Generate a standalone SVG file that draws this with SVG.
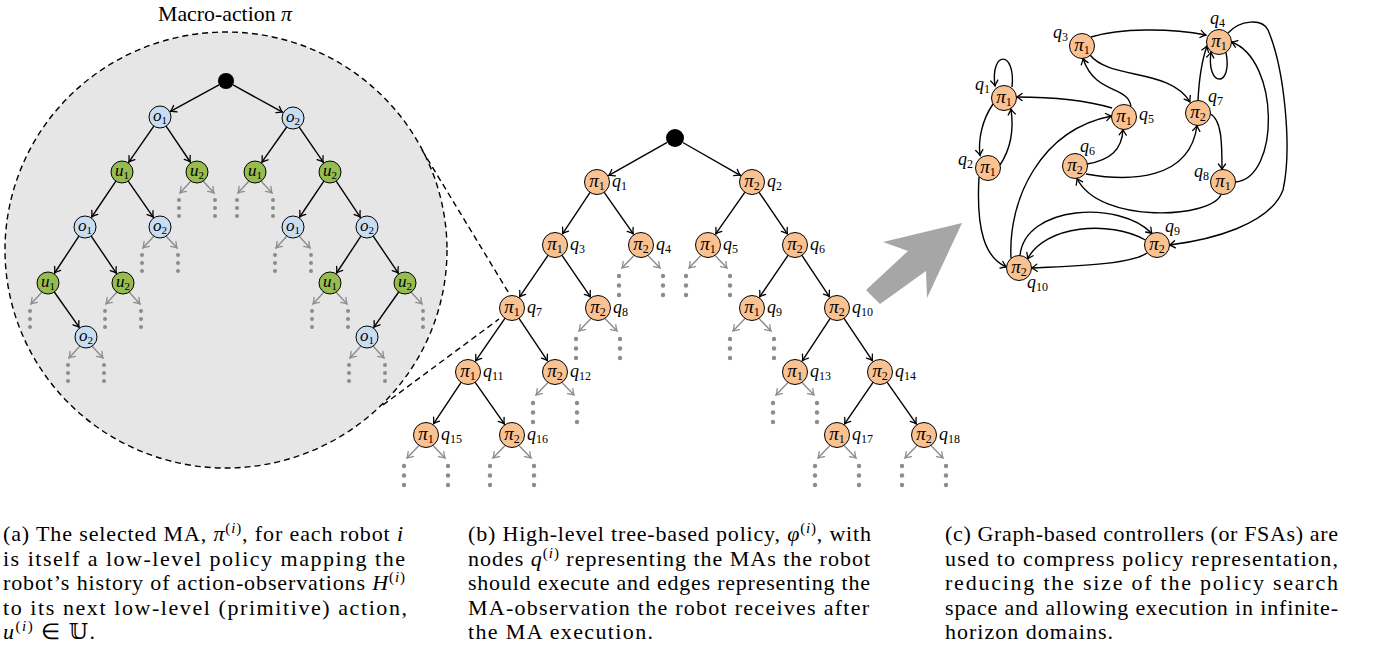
<svg xmlns="http://www.w3.org/2000/svg" xmlns:xlink="http://www.w3.org/1999/xlink" width="1375" height="656" viewBox="0 0 1375 656">
<style>
.e{stroke:#000;stroke-width:1.4;fill:none;marker-end:url(#ah)}
.g{stroke:#8c8c8c;stroke-width:1.4;fill:none;marker-end:url(#ag)}
.d{fill:#8c8c8c}
.pi{fill:#fac191;stroke:#000;stroke-width:1}
.ob{fill:#c9ddf2;stroke:#000;stroke-width:1}
.ug{fill:#96bb4f;stroke:#000;stroke-width:1}
.dash{stroke:#000;stroke-width:1.4;fill:none;stroke-dasharray:6 4}
.bub{stroke:#000;stroke-width:1.4;fill:#e6e6e6;stroke-dasharray:6 4}
text{font-family:"Liberation Serif","Times New Roman",serif;fill:#000}
.nl{font-size:19px;text-anchor:middle}
.sl{font-size:17px;text-anchor:middle}
.ql{font-size:18px;font-style:italic}
.it{font-style:italic}
.sb{font-size:12px;font-style:normal}
.ss{font-size:11px;font-style:normal}
.cap{font-size:22px}
</style>
<defs>
<marker id="ah" markerUnits="userSpaceOnUse" viewBox="-7 -5 8 10" refX="0" refY="0" markerWidth="8" markerHeight="10" orient="auto" overflow="visible">
<path d="M-5.5,-3.6 Q-2,-0.8 0,0 Q-2,0.8 -5.5,3.6" fill="none" stroke="#000" stroke-width="1.3" stroke-linecap="round"/>
</marker>
<marker id="ag" markerUnits="userSpaceOnUse" viewBox="-7 -5 8 10" refX="0" refY="0" markerWidth="8" markerHeight="10" orient="auto" overflow="visible">
<path d="M-5.5,-3.6 Q-2,-0.8 0,0 Q-2,0.8 -5.5,3.6" fill="none" stroke="#8c8c8c" stroke-width="1.3" stroke-linecap="round"/>
</marker>
<g id="mL"><line class="g" x1="-7" y1="10.5" x2="-19" y2="23"/><circle class="d" cx="-22" cy="31" r="2.2"/><circle class="d" cx="-22" cy="40.5" r="2.2"/><circle class="d" cx="-22" cy="50" r="2.2"/></g>
<g id="mR"><line class="g" x1="7" y1="10.5" x2="19" y2="23"/><circle class="d" cx="22" cy="31" r="2.2"/><circle class="d" cx="22" cy="40.5" r="2.2"/><circle class="d" cx="22" cy="50" r="2.2"/></g>
<g id="sL"><line class="g" x1="-6" y1="9" x2="-17" y2="21"/><circle class="d" cx="-18" cy="28" r="2"/><circle class="d" cx="-18" cy="36" r="2"/><circle class="d" cx="-18" cy="44" r="2"/></g>
<g id="sR"><line class="g" x1="6" y1="9" x2="17" y2="21"/><circle class="d" cx="18" cy="28" r="2"/><circle class="d" cx="18" cy="36" r="2"/><circle class="d" cx="18" cy="44" r="2"/></g>
</defs>

<!-- (a) macro-action circle -->
<g id="ma-circle">
<ellipse class="bub" cx="226" cy="250" rx="221" ry="218"/>
<text x="225" y="21" font-size="21" text-anchor="middle" textLength="134" lengthAdjust="spacingAndGlyphs">Macro-action <tspan class="it">π</tspan></text>
</g>

<g id="zoom-lines">
<line class="dash" x1="422" y1="150" x2="510" y2="295"/>
<line class="dash" x1="383" y1="405" x2="499" y2="319"/>
</g>

<g id="ma-edges">
<line class="e" x1="219" y1="84.8" x2="170.5" y2="111.3"/>
<line class="e" x1="233" y1="84.9" x2="282.5" y2="112.2"/>
<line class="e" x1="153.8" y1="126.1" x2="128.8" y2="162.1"/>
<line class="e" x1="166.1" y1="126.1" x2="190.3" y2="162"/>
<line class="e" x1="286.7" y1="127" x2="261.9" y2="162.2"/>
<line class="e" x1="299.2" y1="127.1" x2="323.2" y2="162.1"/>
<line class="e" x1="115.9" y1="181.1" x2="91.7" y2="217"/>
<line class="e" x1="128.2" y1="181.1" x2="153.2" y2="217.1"/>
<line class="e" x1="323.9" y1="181.1" x2="299.7" y2="217"/>
<line class="e" x1="336.2" y1="181.1" x2="360.2" y2="217.1"/>
<line class="e" x1="78.9" y1="236.2" x2="54.6" y2="273"/>
<line class="e" x1="91.2" y1="236.1" x2="116.3" y2="273.1"/>
<line class="e" x1="360.9" y1="236.2" x2="336.6" y2="273"/>
<line class="e" x1="373.2" y1="236.1" x2="398.3" y2="273.1"/>
<line class="e" x1="54.3" y1="292" x2="79.1" y2="327.2"/>
<line class="e" x1="398.7" y1="292" x2="373.9" y2="327.2"/>
<use xlink:href="#sL" x="197" y="172"/><use xlink:href="#sR" x="197" y="172"/>
<use xlink:href="#sL" x="255" y="172"/><use xlink:href="#sR" x="255" y="172"/>
<use xlink:href="#sL" x="160" y="227"/><use xlink:href="#sR" x="160" y="227"/>
<use xlink:href="#sL" x="293" y="227"/><use xlink:href="#sR" x="293" y="227"/>
<use xlink:href="#sL" x="48" y="283"/>
<use xlink:href="#sL" x="123" y="283"/><use xlink:href="#sR" x="123" y="283"/>
<use xlink:href="#sL" x="330" y="283"/><use xlink:href="#sR" x="330" y="283"/>
<use xlink:href="#sR" x="405" y="283"/>
<use xlink:href="#sL" x="86" y="337"/><use xlink:href="#sR" x="86" y="337"/>
<use xlink:href="#sL" x="367" y="337"/><use xlink:href="#sR" x="367" y="337"/>
</g>

<g id="ma-root"><circle cx="226" cy="81" r="8" fill="#000"/></g>
<g id="ma-o1a"><circle class="ob" cx="160" cy="117" r="11"/><text class="sl" x="160" y="121"><tspan class="it">o</tspan><tspan class="ss" dy="3">1</tspan></text></g>
<g id="ma-o2a"><circle class="ob" cx="293" cy="118" r="11"/><text class="sl" x="293" y="122"><tspan class="it">o</tspan><tspan class="ss" dy="3">2</tspan></text></g>
<g id="ma-u1a"><circle class="ug" cx="122" cy="172" r="11"/><text class="sl" x="122" y="176"><tspan class="it">u</tspan><tspan class="ss" dy="3">1</tspan></text></g>
<g id="ma-u2a"><circle class="ug" cx="197" cy="172" r="11"/><text class="sl" x="197" y="176"><tspan class="it">u</tspan><tspan class="ss" dy="3">2</tspan></text></g>
<g id="ma-u1b"><circle class="ug" cx="255" cy="172" r="11"/><text class="sl" x="255" y="176"><tspan class="it">u</tspan><tspan class="ss" dy="3">1</tspan></text></g>
<g id="ma-u2b"><circle class="ug" cx="330" cy="172" r="11"/><text class="sl" x="330" y="176"><tspan class="it">u</tspan><tspan class="ss" dy="3">2</tspan></text></g>
<g id="ma-o1b"><circle class="ob" cx="85" cy="227" r="11"/><text class="sl" x="85" y="231"><tspan class="it">o</tspan><tspan class="ss" dy="3">1</tspan></text></g>
<g id="ma-o2b"><circle class="ob" cx="160" cy="227" r="11"/><text class="sl" x="160" y="231"><tspan class="it">o</tspan><tspan class="ss" dy="3">2</tspan></text></g>
<g id="ma-o1c"><circle class="ob" cx="293" cy="227" r="11"/><text class="sl" x="293" y="231"><tspan class="it">o</tspan><tspan class="ss" dy="3">1</tspan></text></g>
<g id="ma-o2c"><circle class="ob" cx="367" cy="227" r="11"/><text class="sl" x="367" y="231"><tspan class="it">o</tspan><tspan class="ss" dy="3">2</tspan></text></g>
<g id="ma-u1c"><circle class="ug" cx="48" cy="283" r="11"/><text class="sl" x="48" y="287"><tspan class="it">u</tspan><tspan class="ss" dy="3">1</tspan></text></g>
<g id="ma-u2c"><circle class="ug" cx="123" cy="283" r="11"/><text class="sl" x="123" y="287"><tspan class="it">u</tspan><tspan class="ss" dy="3">2</tspan></text></g>
<g id="ma-u1d"><circle class="ug" cx="330" cy="283" r="11"/><text class="sl" x="330" y="287"><tspan class="it">u</tspan><tspan class="ss" dy="3">1</tspan></text></g>
<g id="ma-u2d"><circle class="ug" cx="405" cy="283" r="11"/><text class="sl" x="405" y="287"><tspan class="it">u</tspan><tspan class="ss" dy="3">2</tspan></text></g>
<g id="ma-o2d"><circle class="ob" cx="86" cy="337" r="11"/><text class="sl" x="86" y="341"><tspan class="it">o</tspan><tspan class="ss" dy="3">2</tspan></text></g>
<g id="ma-o1d"><circle class="ob" cx="367" cy="337" r="11"/><text class="sl" x="367" y="341"><tspan class="it">o</tspan><tspan class="ss" dy="3">1</tspan></text></g>

<!-- (b) tree policy -->
<g id="tree-edges">
<line class="e" x1="667.2" y1="142.4" x2="608.8" y2="175.4"/>
<line class="e" x1="682.8" y1="142.5" x2="740.3" y2="175.3"/>
<line class="e" x1="590.1" y1="192.4" x2="562.5" y2="233.8"/>
<line class="e" x1="604.2" y1="192.3" x2="633.3" y2="233.9"/>
<line class="e" x1="744.8" y1="192.3" x2="715.7" y2="233.9"/>
<line class="e" x1="759.1" y1="192.3" x2="787.4" y2="233.9"/>
<line class="e" x1="548" y1="255.3" x2="519.6" y2="296.9"/>
<line class="e" x1="562" y1="255.3" x2="590.4" y2="296.9"/>
<line class="e" x1="788" y1="255.3" x2="759.6" y2="296.9"/>
<line class="e" x1="801.9" y1="255.4" x2="829.5" y2="296.8"/>
<line class="e" x1="504.9" y1="318.3" x2="475.6" y2="360.9"/>
<line class="e" x1="519" y1="318.4" x2="547.5" y2="360.8"/>
<line class="e" x1="830.2" y1="318.4" x2="802.4" y2="360.7"/>
<line class="e" x1="844" y1="318.4" x2="872.5" y2="360.8"/>
<line class="e" x1="461.1" y1="382.4" x2="433.5" y2="423.8"/>
<line class="e" x1="475.2" y1="382.3" x2="504.3" y2="423.9"/>
<line class="e" x1="873" y1="382.3" x2="844.6" y2="423.9"/>
<line class="e" x1="887.2" y1="382.3" x2="916.3" y2="423.9"/>
<use xlink:href="#mL" x="641" y="245"/><use xlink:href="#mR" x="641" y="245"/>
<use xlink:href="#mL" x="708" y="245"/><use xlink:href="#mR" x="708" y="245"/>
<use xlink:href="#mL" x="598" y="308"/><use xlink:href="#mR" x="598" y="308"/>
<use xlink:href="#mL" x="752" y="308"/><use xlink:href="#mR" x="752" y="308"/>
<use xlink:href="#mL" x="555" y="372"/><use xlink:href="#mR" x="555" y="372"/>
<use xlink:href="#mL" x="795" y="372"/><use xlink:href="#mR" x="795" y="372"/>
<use xlink:href="#mL" x="426" y="435"/><use xlink:href="#mR" x="426" y="435"/>
<use xlink:href="#mL" x="512" y="435"/><use xlink:href="#mR" x="512" y="435"/>
<use xlink:href="#mL" x="837" y="435"/><use xlink:href="#mR" x="837" y="435"/>
<use xlink:href="#mL" x="924" y="435"/><use xlink:href="#mR" x="924" y="435"/>
</g>

<g id="t-root"><circle cx="675" cy="138" r="9" fill="#000"/></g>
<g id="t-q1"><circle class="pi" cx="597" cy="182" r="12.5"/><text class="nl" x="597" y="187"><tspan class="it">π</tspan><tspan class="sb" dy="3">1</tspan></text><text class="ql" x="612" y="187">q<tspan class="sb" dy="3">1</tspan></text></g>
<g id="t-q2"><circle class="pi" cx="752" cy="182" r="12.5"/><text class="nl" x="752" y="187"><tspan class="it">π</tspan><tspan class="sb" dy="3">2</tspan></text><text class="ql" x="767" y="187">q<tspan class="sb" dy="3">2</tspan></text></g>
<g id="t-q3"><circle class="pi" cx="555" cy="245" r="12.5"/><text class="nl" x="555" y="250"><tspan class="it">π</tspan><tspan class="sb" dy="3">1</tspan></text><text class="ql" x="570" y="250">q<tspan class="sb" dy="3">3</tspan></text></g>
<g id="t-q4"><circle class="pi" cx="641" cy="245" r="12.5"/><text class="nl" x="641" y="250"><tspan class="it">π</tspan><tspan class="sb" dy="3">2</tspan></text><text class="ql" x="656" y="250">q<tspan class="sb" dy="3">4</tspan></text></g>
<g id="t-q5"><circle class="pi" cx="708" cy="245" r="12.5"/><text class="nl" x="708" y="250"><tspan class="it">π</tspan><tspan class="sb" dy="3">1</tspan></text><text class="ql" x="723" y="250">q<tspan class="sb" dy="3">5</tspan></text></g>
<g id="t-q6"><circle class="pi" cx="795" cy="245" r="12.5"/><text class="nl" x="795" y="250"><tspan class="it">π</tspan><tspan class="sb" dy="3">2</tspan></text><text class="ql" x="810" y="250">q<tspan class="sb" dy="3">6</tspan></text></g>
<g id="t-q7"><circle class="pi" cx="512" cy="308" r="12.5"/><text class="nl" x="512" y="313"><tspan class="it">π</tspan><tspan class="sb" dy="3">1</tspan></text><text class="ql" x="527" y="313">q<tspan class="sb" dy="3">7</tspan></text></g>
<g id="t-q8"><circle class="pi" cx="598" cy="308" r="12.5"/><text class="nl" x="598" y="313"><tspan class="it">π</tspan><tspan class="sb" dy="3">2</tspan></text><text class="ql" x="613" y="313">q<tspan class="sb" dy="3">8</tspan></text></g>
<g id="t-q9"><circle class="pi" cx="752" cy="308" r="12.5"/><text class="nl" x="752" y="313"><tspan class="it">π</tspan><tspan class="sb" dy="3">1</tspan></text><text class="ql" x="767" y="313">q<tspan class="sb" dy="3">9</tspan></text></g>
<g id="t-q10"><circle class="pi" cx="837" cy="308" r="12.5"/><text class="nl" x="837" y="313"><tspan class="it">π</tspan><tspan class="sb" dy="3">2</tspan></text><text class="ql" x="852" y="313">q<tspan class="sb" dy="3">10</tspan></text></g>
<g id="t-q11"><circle class="pi" cx="468" cy="372" r="12.5"/><text class="nl" x="468" y="377"><tspan class="it">π</tspan><tspan class="sb" dy="3">1</tspan></text><text class="ql" x="483" y="377">q<tspan class="sb" dy="3">11</tspan></text></g>
<g id="t-q12"><circle class="pi" cx="555" cy="372" r="12.5"/><text class="nl" x="555" y="377"><tspan class="it">π</tspan><tspan class="sb" dy="3">2</tspan></text><text class="ql" x="570" y="377">q<tspan class="sb" dy="3">12</tspan></text></g>
<g id="t-q13"><circle class="pi" cx="795" cy="372" r="12.5"/><text class="nl" x="795" y="377"><tspan class="it">π</tspan><tspan class="sb" dy="3">1</tspan></text><text class="ql" x="810" y="377">q<tspan class="sb" dy="3">13</tspan></text></g>
<g id="t-q14"><circle class="pi" cx="880" cy="372" r="12.5"/><text class="nl" x="880" y="377"><tspan class="it">π</tspan><tspan class="sb" dy="3">2</tspan></text><text class="ql" x="895" y="377">q<tspan class="sb" dy="3">14</tspan></text></g>
<g id="t-q15"><circle class="pi" cx="426" cy="435" r="12.5"/><text class="nl" x="426" y="440"><tspan class="it">π</tspan><tspan class="sb" dy="3">1</tspan></text><text class="ql" x="441" y="440">q<tspan class="sb" dy="3">15</tspan></text></g>
<g id="t-q16"><circle class="pi" cx="512" cy="435" r="12.5"/><text class="nl" x="512" y="440"><tspan class="it">π</tspan><tspan class="sb" dy="3">2</tspan></text><text class="ql" x="527" y="440">q<tspan class="sb" dy="3">16</tspan></text></g>
<g id="t-q17"><circle class="pi" cx="837" cy="435" r="12.5"/><text class="nl" x="837" y="440"><tspan class="it">π</tspan><tspan class="sb" dy="3">1</tspan></text><text class="ql" x="852" y="440">q<tspan class="sb" dy="3">17</tspan></text></g>
<g id="t-q18"><circle class="pi" cx="924" cy="435" r="12.5"/><text class="nl" x="924" y="440"><tspan class="it">π</tspan><tspan class="sb" dy="3">2</tspan></text><text class="ql" x="939" y="440">q<tspan class="sb" dy="3">18</tspan></text></g>

<!-- big arrow -->
<g id="big-arrow"><polygon points="883,242 962,223 927,298 926,271 880,304 866,290 908,251" fill="#a6a6a6"/></g>

<!-- (c) graph controller -->
<g id="fsa-edges">
<path class="e" d="M1012,87 C1016,50 990,50 995,86"/>
<path class="e" d="M993,104 C982,120 978,140 980,155.5"/>
<path class="e" d="M1000,165 C1010,150 1014,130 1011,109"/>
<path class="e" d="M1091,37 C1120,28 1170,28 1206,35"/>
<path class="e" d="M1090,55 C1110,80 1170,68 1190,102"/>
<path class="e" d="M1131,106.5 C1128,85 1095,95 1083,58.5"/>
<path class="e" d="M1112,108 C1085,100 1050,97 1016.5,97"/>
<path class="e" d="M1011,258 C1008,200 1040,130 1111.5,116"/>
<path class="e" d="M1087,164 C1110,160 1122,150 1123,129.5"/>
<path class="e" d="M1086,174 C1130,182 1190,180 1197,125.5"/>
<path class="e" d="M1198,100.5 C1199,80 1202,60 1207,46"/>
<path class="e" d="M1226,52.5 C1233,88 1206,88 1211,52"/>
<path class="e" d="M1210.5,114 C1222,120 1222,145 1222,169.5"/>
<path class="e" d="M1235.5,182 C1280,178 1280,60 1231.5,42"/>
<path class="e" d="M1228,33 C1240,20 1262,18 1268,30 C1285,70 1292,150 1283,190 C1270,225 1210,240 1169.5,245"/>
<path class="e" d="M1221,194.5 C1212,218 1100,225 1077,178.5"/>
<path class="e" d="M1020,255.5 C1025,205 1120,200 1152,233.5"/>
<path class="e" d="M1145.5,240 C1110,220 1045,225 1027.5,259"/>
<path class="e" d="M1147,253 C1130,265 1070,266 1031.5,268"/>
<path class="e" d="M979,177 C976,230 985,258 1006.5,267"/>
</g>

<g id="f-q1"><circle class="pi" cx="1004" cy="98" r="12.5"/><text class="nl" x="1004" y="103"><tspan class="it">π</tspan><tspan class="sb" dy="3">1</tspan></text><text class="ql" x="975" y="90">q<tspan class="sb" dy="3">1</tspan></text></g>
<g id="f-q2"><circle class="pi" cx="988" cy="168" r="12.5"/><text class="nl" x="988" y="173"><tspan class="it">π</tspan><tspan class="sb" dy="3">1</tspan></text><text class="ql" x="958" y="165">q<tspan class="sb" dy="3">2</tspan></text></g>
<g id="f-q3"><circle class="pi" cx="1082" cy="46" r="12.5"/><text class="nl" x="1082" y="51"><tspan class="it">π</tspan><tspan class="sb" dy="3">1</tspan></text><text class="ql" x="1053" y="38">q<tspan class="sb" dy="3">3</tspan></text></g>
<g id="f-q4"><circle class="pi" cx="1219" cy="42" r="12.5"/><text class="nl" x="1219" y="47"><tspan class="it">π</tspan><tspan class="sb" dy="3">1</tspan></text><text class="ql" x="1210" y="24">q<tspan class="sb" dy="3">4</tspan></text></g>
<g id="f-q5"><circle class="pi" cx="1124" cy="117" r="12.5"/><text class="nl" x="1124" y="122"><tspan class="it">π</tspan><tspan class="sb" dy="3">1</tspan></text><text class="ql" x="1139" y="120">q<tspan class="sb" dy="3">5</tspan></text></g>
<g id="f-q6"><circle class="pi" cx="1075" cy="166" r="12.5"/><text class="nl" x="1075" y="171"><tspan class="it">π</tspan><tspan class="sb" dy="3">2</tspan></text><text class="ql" x="1080" y="152">q<tspan class="sb" dy="3">6</tspan></text></g>
<g id="f-q7"><circle class="pi" cx="1198" cy="113" r="12.5"/><text class="nl" x="1198" y="118"><tspan class="it">π</tspan><tspan class="sb" dy="3">2</tspan></text><text class="ql" x="1208" y="102">q<tspan class="sb" dy="3">7</tspan></text></g>
<g id="f-q8"><circle class="pi" cx="1223" cy="182" r="12.5"/><text class="nl" x="1223" y="187"><tspan class="it">π</tspan><tspan class="sb" dy="3">1</tspan></text><text class="ql" x="1194" y="177">q<tspan class="sb" dy="3">8</tspan></text></g>
<g id="f-q9"><circle class="pi" cx="1157" cy="245" r="12.5"/><text class="nl" x="1157" y="250"><tspan class="it">π</tspan><tspan class="sb" dy="3">2</tspan></text><text class="ql" x="1165" y="232">q<tspan class="sb" dy="3">9</tspan></text></g>
<g id="f-q10"><circle class="pi" cx="1019" cy="268" r="12.5"/><text class="nl" x="1019" y="273"><tspan class="it">π</tspan><tspan class="sb" dy="3">2</tspan></text><text class="ql" x="1027" y="288">q<tspan class="sb" dy="3">10</tspan></text></g>

<!-- captions -->
<g id="caption-a">
<text class="cap" x="3" y="541" textLength="400" lengthAdjust="spacing">(a) The selected MA, <tspan class="it">π</tspan><tspan font-size="15" dy="-8">(<tspan class="it">i</tspan>)</tspan><tspan dy="8">, for each robot </tspan><tspan class="it">i</tspan></text>
<text class="cap" x="3" y="565.5" textLength="402" lengthAdjust="spacing">is itself a low-level policy mapping the</text>
<text class="cap" x="3" y="590" textLength="402" lengthAdjust="spacing">robot’s history of action-observations <tspan class="it">H</tspan><tspan font-size="15" dy="-8">(<tspan class="it">i</tspan>)</tspan></text>
<text class="cap" x="3" y="614.5" textLength="404" lengthAdjust="spacing">to its next low-level (primitive) action,</text>
<text class="cap" x="3" y="639" textLength="92" lengthAdjust="spacing"><tspan class="it">u</tspan><tspan font-size="15" dy="-8">(<tspan class="it">i</tspan>)</tspan><tspan dy="8"> ∈ </tspan><tspan font-family="DejaVu Serif, DejaVu Sans, serif">𝕌</tspan>.</text>
</g>
<g id="caption-b">
<text class="cap" x="468" y="541" textLength="403" lengthAdjust="spacing">(b) High-level tree-based policy, <tspan class="it">φ</tspan><tspan font-size="15" dy="-8">(<tspan class="it">i</tspan>)</tspan><tspan dy="8">, with</tspan></text>
<text class="cap" x="468" y="565.5" textLength="402" lengthAdjust="spacing">nodes <tspan class="it">q</tspan><tspan font-size="15" dy="-8">(<tspan class="it">i</tspan>)</tspan><tspan dy="8"> representing the MAs the robot</tspan></text>
<text class="cap" x="468" y="590" textLength="402" lengthAdjust="spacing">should execute and edges representing the</text>
<text class="cap" x="468" y="614.5" textLength="401" lengthAdjust="spacing">MA-observation the robot receives after</text>
<text class="cap" x="468" y="639" textLength="185" lengthAdjust="spacing">the MA execution.</text>
</g>
<g id="caption-c">
<text class="cap" x="945" y="541" textLength="393" lengthAdjust="spacing">(c) Graph-based controllers (or FSAs) are</text>
<text class="cap" x="945" y="565.5" textLength="393" lengthAdjust="spacing">used to compress policy representation,</text>
<text class="cap" x="945" y="590" textLength="393" lengthAdjust="spacing">reducing the size of the policy search</text>
<text class="cap" x="945" y="614.5" textLength="393" lengthAdjust="spacing">space and allowing execution in infinite-</text>
<text class="cap" x="945" y="639" textLength="168" lengthAdjust="spacing">horizon domains.</text>
</g>
</svg>
